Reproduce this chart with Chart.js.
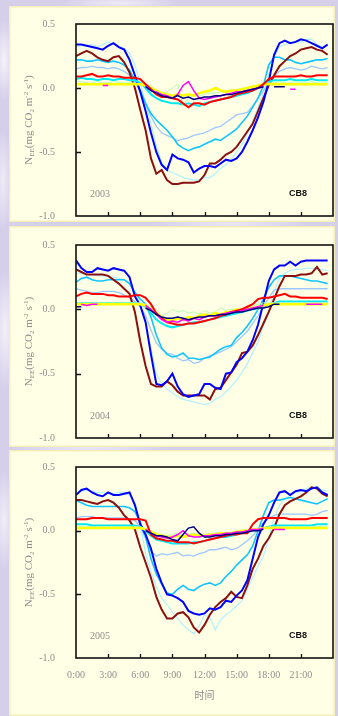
<!DOCTYPE html>
<html>
<head>
<meta charset="utf-8">
<script src="https://cdn.jsdelivr.net/npm/chart.js@4/dist/chart.umd.min.js"></script>
<style>
  html, body { margin: 0; padding: 0; }
  body {
    width: 338px; height: 716px; overflow: hidden; position: relative;
    background-color: #D6CFEA;
    background-image:
      radial-gradient(ellipse 10px 40px at 4px 60px, rgba(255,255,255,.75), rgba(255,255,255,0)),
      radial-gradient(ellipse 9px 50px at 3px 180px, rgba(255,255,255,.6), rgba(255,255,255,0)),
      radial-gradient(ellipse 12px 60px at 5px 330px, rgba(255,255,255,.7), rgba(255,255,255,0)),
      radial-gradient(ellipse 10px 50px at 4px 520px, rgba(255,255,255,.65), rgba(255,255,255,0)),
      radial-gradient(ellipse 60px 6px at 120px 3px, rgba(255,255,255,.6), rgba(255,255,255,0)),
      radial-gradient(ellipse 80px 4px at 230px 224px, rgba(255,255,255,.55), rgba(255,255,255,0)),
      radial-gradient(ellipse 80px 4px at 90px 448px, rgba(255,255,255,.55), rgba(255,255,255,0));
  }
  .panel {
    position: absolute; left: 9px; width: 326px;
    background: #FFFFE6;
    box-shadow: inset 0 0 0 1.5px #F4EFB8;
  }
  .panel canvas { position: absolute; left: 0; top: 0; }
</style>
</head>
<body>
<div class="panel" style="top:6px;height:216px"><canvas id="c2003" width="326" height="216"></canvas></div>
<div class="panel" style="top:226px;height:221px"><canvas id="c2004" width="326" height="221"></canvas></div>
<div class="panel" style="top:450px;height:266px"><canvas id="c2005" width="326" height="266"></canvas></div>
<script>
// Half-hourly time of day (h)
const TIMES = [0,0.5,1,1.5,2,2.5,3,3.5,4,4.5,5,5.5,
  6,6.5,7,7.5,8,8.5,9,9.5,10,10.5,11,11.5,
  12,12.5,13,13.5,14,14.5,15,15.5,16,16.5,17,17.5,
  18,18.5,19,19.5,20,20.5,21,21.5,22,22.5,23,23.5];
const X_TICK_HOURS = [0,3,6,9,12,15,18,21];
const Y_TICKS = [-1.0,-0.5,0.0,0.5];
const SITE = 'CB8';
const X_TITLE = '时间';

// ---- 2003 ----
const BLUE_03 = [0.34,0.34,0.33,0.32,0.31,0.30,0.33,0.35,0.32,0.30,0.22,0.10,
  -0.03,-0.18,-0.35,-0.50,-0.60,-0.64,-0.52,-0.55,-0.56,-0.58,-0.66,-0.63,
  -0.61,-0.61,-0.62,-0.59,-0.56,-0.57,-0.55,-0.50,-0.42,-0.33,-0.23,-0.11,
  0.05,0.26,0.35,0.37,0.35,0.36,0.38,0.37,0.35,0.33,0.31,0.34];
const MAROON_03 = [0.25,0.27,0.29,0.27,0.24,0.22,0.21,0.24,0.25,0.20,0.12,0.00,
  -0.17,-0.33,-0.55,-0.67,-0.64,-0.72,-0.75,-0.75,-0.74,-0.74,-0.74,-0.73,
  -0.68,-0.59,-0.59,-0.56,-0.52,-0.50,-0.46,-0.40,-0.34,-0.28,-0.18,-0.08,
  0.02,0.10,0.17,0.21,0.25,0.27,0.30,0.31,0.32,0.30,0.29,0.26];
const PALECYAN_03 = [0.32,0.33,0.33,0.34,0.32,0.34,0.36,0.34,0.32,0.31,0.27,0.18,
  0.04,-0.12,-0.28,-0.45,-0.58,-0.64,-0.66,-0.68,-0.70,-0.71,-0.72,-0.72,
  -0.70,-0.70,-0.67,-0.63,-0.60,-0.56,-0.50,-0.44,-0.36,-0.26,-0.15,-0.04,
  0.10,0.24,0.32,0.34,0.35,0.36,0.36,0.38,0.38,0.34,0.32,0.33];
const SKY_03 = [0.22,0.22,0.21,0.21,0.22,0.21,0.20,0.21,0.20,0.18,0.14,0.06,
  -0.02,-0.12,-0.20,-0.25,-0.29,-0.33,-0.38,-0.44,-0.47,-0.49,-0.47,-0.46,
  -0.44,-0.42,-0.40,-0.41,-0.38,-0.35,-0.32,-0.27,-0.22,-0.15,-0.08,0.02,
  0.18,0.24,0.24,0.22,0.22,0.20,0.19,0.20,0.21,0.22,0.22,0.23];
const PALEBLUE_03 = [0.15,0.16,0.16,0.17,0.16,0.16,0.15,0.16,0.15,0.13,0.10,0.05,
  -0.02,-0.12,-0.22,-0.30,-0.35,-0.37,-0.39,-0.41,-0.40,-0.39,-0.37,-0.36,
  -0.35,-0.33,-0.31,-0.30,-0.27,-0.24,-0.21,-0.20,-0.19,-0.14,-0.08,-0.02,
  0.04,0.09,0.13,0.15,0.16,0.15,0.14,0.15,0.17,0.16,0.15,0.16];
const RED_03 = [0.09,0.09,0.10,0.11,0.09,0.09,0.10,0.09,0.09,0.08,0.08,0.08,
  0.07,0.03,-0.01,-0.05,-0.07,-0.07,-0.08,-0.09,-0.12,-0.15,-0.12,-0.12,
  -0.13,-0.11,-0.10,-0.09,-0.08,-0.07,-0.05,-0.04,-0.03,-0.02,0.00,0.03,
  0.07,0.09,0.09,0.09,0.09,0.09,0.10,0.09,0.09,0.10,0.10,0.10];
const CYAN_03 = [0.07,0.08,0.07,0.07,0.06,0.07,0.07,0.06,0.07,0.07,0.06,0.06,
  0.04,0.00,-0.05,-0.08,-0.10,-0.11,-0.12,-0.12,-0.13,-0.12,-0.13,-0.14,
  -0.12,-0.11,-0.10,-0.09,-0.08,-0.07,-0.06,-0.05,-0.04,-0.02,0.00,0.03,
  0.05,0.06,0.06,0.06,0.07,0.06,0.06,0.06,0.07,0.06,0.06,0.06];
const YELLOW_03 = [0.03,0.03,0.03,0.03,0.03,0.03,0.03,0.03,0.03,0.03,0.03,0.03,
  0.03,0.02,0.00,-0.02,-0.04,-0.05,-0.06,-0.05,-0.06,-0.05,-0.06,-0.04,
  -0.03,-0.02,0.00,-0.02,-0.03,-0.02,-0.02,-0.01,0.00,0.01,0.02,0.03,
  0.03,0.03,0.03,0.03,0.03,0.03,0.03,0.03,0.03,0.03,0.03,0.03];
const GREEN_03 = [0.05,0.05,0.04,0.04,0.05,0.04,0.04,0.05,0.04,0.04,0.04,0.04,
  0.03,0.03,0.02,-0.02,-0.04,-0.03,0.00,0.03,-0.14,-0.08,-0.05,-0.06,
  -0.05,-0.04,-0.04,-0.03,-0.03,-0.02,-0.02,0.00,0.00,0.01,0.02,0.03,
  0.04,0.04,0.05,0.04,0.04,0.05,0.04,0.04,0.05,0.04,0.04,0.04];
const MAGENTA_03 = [null,null,null,null,null,0.02,0.02,null,null,null,null,null,
  null,0.02,-0.02,-0.03,-0.05,-0.06,-0.08,-0.05,0.02,0.05,-0.02,-0.08,
  -0.09,-0.08,-0.07,-0.06,-0.05,-0.04,-0.03,-0.03,-0.02,-0.01,0.00,0.01,
  null,null,null,null,-0.01,-0.01,null,null,null,null,null,null];
const NAVY_03 = [null,null,null,null,null,null,null,null,null,null,null,null,
  null,0.01,-0.02,-0.04,-0.06,-0.07,-0.08,-0.06,-0.08,-0.07,-0.09,-0.08,
  -0.07,-0.07,-0.06,-0.06,-0.05,-0.05,-0.04,-0.03,-0.02,-0.01,0.00,0.01,
  null,0.01,0.01,0.01,null,null,null,null,null,null,null,null];

// ---- 2004 ----
const BLUE_04 = [0.38,0.32,0.29,0.29,0.32,0.31,0.30,0.32,0.31,0.30,0.25,0.10,
  0.03,-0.10,-0.35,-0.58,-0.59,-0.56,-0.50,-0.60,-0.66,-0.68,-0.67,-0.66,
  -0.58,-0.58,-0.61,-0.62,-0.50,-0.49,-0.41,-0.38,-0.33,-0.24,-0.12,0.05,
  0.22,0.31,0.34,0.34,0.37,0.34,0.37,0.38,0.38,0.38,0.38,0.38];
const MAROON_04 = [0.31,0.29,0.27,0.27,0.27,0.27,0.26,0.23,0.20,0.16,0.12,-0.02,
  -0.25,-0.44,-0.58,-0.60,-0.60,-0.56,-0.59,-0.64,-0.67,-0.67,-0.67,-0.67,
  -0.67,-0.70,-0.62,-0.61,-0.55,-0.49,-0.43,-0.34,-0.33,-0.28,-0.20,-0.11,
  -0.02,0.08,0.18,0.26,0.26,0.26,0.27,0.27,0.28,0.33,0.27,0.28];
const PALECYAN_04 = [0.28,0.28,0.27,0.27,0.26,0.26,0.26,0.25,0.24,0.23,0.20,0.14,
  0.03,-0.12,-0.30,-0.50,-0.58,-0.62,-0.65,-0.68,-0.70,-0.71,-0.72,-0.73,
  -0.74,-0.73,-0.70,-0.68,-0.64,-0.60,-0.55,-0.49,-0.42,-0.34,-0.25,-0.13,
  -0.02,0.14,0.24,0.28,0.30,0.31,0.31,0.32,0.32,0.31,0.31,0.30];
const SKY_04 = [0.21,0.24,0.25,0.23,0.22,0.22,0.23,0.23,0.23,0.23,0.20,0.13,
  0.08,0.04,-0.06,-0.20,-0.30,-0.35,-0.37,-0.36,-0.34,-0.38,-0.38,-0.39,
  -0.38,-0.37,-0.34,-0.31,-0.29,-0.28,-0.22,-0.18,-0.13,-0.07,0.00,0.08,
  0.17,0.23,0.26,0.26,0.26,0.25,0.24,0.23,0.22,0.22,0.21,0.20];
const PALEBLUE_04 = [0.16,0.15,0.14,0.13,0.13,0.14,0.14,0.14,0.13,0.11,0.09,0.06,
  0.02,-0.05,-0.16,-0.26,-0.31,-0.34,-0.35,-0.38,-0.40,-0.39,-0.42,-0.41,
  -0.38,-0.36,-0.35,-0.33,-0.31,-0.29,-0.25,-0.21,-0.17,-0.11,-0.05,0.02,
  0.09,0.15,0.16,0.16,0.16,0.16,0.16,0.16,0.16,0.16,0.16,0.16];
const RED_04 = [0.10,0.12,0.13,0.12,0.12,0.12,0.11,0.11,0.10,0.10,0.10,0.11,
  0.11,0.09,0.04,-0.03,-0.07,-0.10,-0.11,-0.12,-0.12,-0.11,-0.11,-0.10,
  -0.09,-0.08,-0.07,-0.05,-0.04,-0.02,-0.01,0.00,0.02,0.04,0.08,0.09,
  0.09,0.10,0.11,0.12,0.10,0.10,0.09,0.09,0.09,0.09,0.09,0.08];
const CYAN_04 = [0.05,0.05,0.05,0.05,0.05,0.05,0.05,0.05,0.05,0.05,0.05,0.05,
  0.04,0.02,-0.03,-0.08,-0.11,-0.13,-0.14,-0.13,-0.12,-0.11,-0.10,-0.10,
  -0.09,-0.08,-0.07,-0.06,-0.05,-0.04,-0.03,-0.02,-0.01,0.00,0.01,0.02,
  0.04,0.05,0.06,0.06,0.06,0.06,0.06,0.06,0.06,0.06,0.06,0.06];
const YELLOW_04 = [0.04,0.04,0.04,0.04,0.04,0.04,0.04,0.04,0.04,0.04,0.04,0.04,
  0.04,0.03,0.00,-0.03,-0.06,-0.08,-0.09,-0.07,-0.08,-0.06,-0.07,-0.05,
  -0.04,-0.05,-0.03,-0.04,-0.02,-0.02,0.00,-0.01,0.01,0.01,0.02,0.03,
  0.04,0.04,0.04,0.04,0.04,0.04,0.04,0.04,0.04,0.04,0.04,0.04];
const GREEN_04 = [0.05,0.05,0.05,0.05,0.05,0.05,0.05,0.05,0.05,0.05,0.05,0.05,
  0.05,0.04,0.02,-0.01,-0.05,-0.03,0.00,-0.02,-0.01,-0.03,-0.02,-0.04,
  -0.01,-0.03,-0.02,0.01,-0.01,0.00,-0.01,0.01,0.02,0.03,0.04,0.05,
  0.05,0.05,0.05,0.05,0.05,0.05,0.05,0.05,0.05,0.05,0.05,0.05];
const MAGENTA_04 = [null,0.04,0.03,0.04,0.04,null,null,null,null,null,null,null,
  null,0.03,0.00,-0.04,-0.08,-0.10,-0.09,-0.10,-0.08,-0.09,-0.07,-0.08,
  -0.06,-0.05,-0.05,-0.04,-0.03,-0.02,-0.02,-0.01,0.00,0.01,0.02,0.03,
  null,null,null,null,null,null,null,0.04,0.04,0.04,0.04,null];
const NAVY_04 = [0.02,0.02,null,null,null,null,null,null,null,null,null,null,
  null,0.01,-0.01,-0.04,-0.06,-0.07,-0.07,-0.06,-0.07,-0.08,-0.07,-0.06,
  -0.06,-0.05,-0.05,-0.04,-0.04,-0.03,-0.02,-0.02,-0.01,0.00,0.01,0.01,
  0.02,0.04,0.04,null,null,null,null,null,null,null,null,null];

// ---- 2005 ----
const BLUE_05 = [0.28,0.32,0.33,0.30,0.28,0.27,0.30,0.28,0.28,0.29,0.30,0.20,
  0.05,-0.03,-0.14,-0.30,-0.41,-0.50,-0.51,-0.53,-0.56,-0.63,-0.65,-0.66,
  -0.65,-0.61,-0.62,-0.60,-0.55,-0.56,-0.51,-0.47,-0.39,-0.22,-0.05,0.05,
  0.12,0.22,0.30,0.31,0.28,0.31,0.32,0.31,0.33,0.34,0.30,0.28];
const MAROON_05 = [0.24,0.24,0.23,0.22,0.21,0.23,0.24,0.22,0.18,0.12,0.08,0.01,
  -0.13,-0.25,-0.37,-0.52,-0.62,-0.69,-0.69,-0.65,-0.64,-0.68,-0.76,-0.80,
  -0.74,-0.66,-0.60,-0.56,-0.53,-0.48,-0.52,-0.53,-0.43,-0.30,-0.22,-0.12,
  -0.06,0.02,0.13,0.20,0.23,0.25,0.27,0.30,0.34,0.33,0.29,0.27];
const PALECYAN_05 = [0.30,0.31,0.32,0.31,0.30,0.30,0.29,0.29,0.30,0.30,0.28,0.22,
  0.05,-0.18,-0.32,-0.44,-0.53,-0.58,-0.64,-0.69,-0.74,-0.78,-0.81,-0.75,
  -0.66,-0.68,-0.78,-0.70,-0.66,-0.63,-0.59,-0.55,-0.46,-0.37,-0.28,-0.20,
  -0.06,0.10,0.20,0.25,0.28,0.30,0.31,0.33,0.34,0.34,0.32,0.31];
const SKY_05 = [0.24,0.22,0.20,0.19,0.19,0.19,0.19,0.19,0.19,0.19,0.18,0.15,
  0.07,-0.05,-0.22,-0.34,-0.42,-0.49,-0.50,-0.46,-0.43,-0.46,-0.47,-0.44,
  -0.42,-0.41,-0.43,-0.41,-0.36,-0.32,-0.27,-0.23,-0.19,-0.12,0.00,0.12,
  0.22,0.24,0.24,0.25,0.26,0.25,0.24,0.23,0.22,0.21,0.23,0.25];
const PALEBLUE_05 = [0.10,0.11,0.11,0.11,0.10,0.10,0.10,0.10,0.10,0.10,0.09,0.08,
  0.03,-0.06,-0.16,-0.20,-0.18,-0.19,-0.18,-0.17,-0.20,-0.19,-0.20,-0.18,
  -0.17,-0.15,-0.15,-0.14,-0.13,-0.15,-0.14,-0.11,-0.08,-0.04,0.01,0.06,
  0.10,0.12,0.13,0.13,0.13,0.13,0.13,0.13,0.12,0.13,0.15,0.16];
const RED_05 = [0.09,0.09,0.09,0.10,0.10,0.10,0.09,0.09,0.09,0.09,0.09,0.09,
  0.09,0.08,-0.03,-0.06,-0.07,-0.08,-0.08,-0.09,-0.09,-0.09,-0.10,-0.09,
  -0.08,-0.07,-0.06,-0.05,-0.04,-0.03,-0.03,-0.02,-0.02,0.05,0.09,0.10,
  0.10,0.10,0.10,0.10,0.09,0.09,0.09,0.09,0.10,0.10,0.10,0.10];
const CYAN_05 = [0.05,0.05,0.05,0.04,0.04,0.04,0.04,0.04,0.04,0.04,0.04,0.04,
  0.03,0.00,-0.04,-0.07,-0.08,-0.09,-0.10,-0.10,-0.10,-0.10,-0.09,-0.09,
  -0.08,-0.07,-0.06,-0.05,-0.05,-0.04,-0.03,-0.02,-0.01,0.00,0.01,0.02,
  0.03,0.04,0.04,0.04,0.04,0.04,0.04,0.04,0.04,0.05,0.05,0.05];
const YELLOW_05 = [0.02,0.02,0.02,0.02,0.02,0.02,0.02,0.02,0.02,0.02,0.02,0.02,
  0.02,0.01,-0.01,-0.03,-0.04,-0.05,-0.05,-0.04,-0.05,-0.04,-0.03,-0.04,
  -0.04,-0.03,-0.03,-0.02,-0.02,-0.02,-0.01,0.00,0.00,0.01,0.01,0.02,
  0.02,0.02,0.02,0.02,0.02,0.02,0.02,0.02,0.02,0.02,0.02,0.02];
const GREEN_05 = [0.03,0.03,0.03,0.03,0.03,0.03,0.03,0.03,0.03,0.03,0.03,0.03,
  0.03,0.02,0.00,-0.02,-0.03,-0.04,-0.03,-0.02,-0.04,-0.03,-0.02,-0.03,
  -0.03,-0.02,-0.02,-0.01,-0.02,-0.01,0.00,0.00,0.01,0.01,0.02,0.02,
  0.03,0.03,0.03,0.03,0.03,0.03,0.03,0.03,0.03,0.03,0.03,0.03];
const MAGENTA_05 = [null,null,null,null,null,null,null,null,null,null,null,null,
  null,0.01,-0.02,-0.04,-0.05,-0.06,-0.05,-0.03,0.00,-0.04,-0.05,-0.05,
  -0.04,-0.04,-0.03,-0.03,-0.02,-0.02,-0.01,-0.01,0.00,0.01,0.01,0.02,
  null,0.01,0.01,0.01,null,null,null,null,null,null,null,null];
const NAVY_05 = [null,null,null,null,null,null,null,null,null,null,null,null,
  null,0.00,-0.02,-0.04,-0.04,-0.05,-0.07,-0.08,-0.03,0.02,0.03,-0.02,
  -0.05,-0.05,-0.04,-0.04,-0.03,-0.03,-0.02,-0.02,-0.01,0.00,0.00,0.01,
  null,null,null,null,null,null,null,null,null,null,null,null];

// Line look per series, listed top-most first
const LINE_STYLE = [
  { key: 'navy',     color: '#000080', width: 1.5 },
  { key: 'magenta',  color: '#FF00FF', width: 1.5 },
  { key: 'red',      color: '#FF0000', width: 2 },
  { key: 'yellow',   color: '#FFFF00', width: 2.5 },
  { key: 'green',    color: '#B8FFB0', width: 1 },
  { key: 'cyan',     color: '#00E8F0', width: 2 },
  { key: 'blue',     color: '#0000FF', width: 2 },
  { key: 'maroon',   color: '#8B1010', width: 2 },
  { key: 'sky',      color: '#10C4FF', width: 1.6 },
  { key: 'paleblue', color: '#9CC8FF', width: 1.3 },
  { key: 'palecyan', color: '#B0F2FF', width: 1.2 }
];

const PANELS = [
  { id: 'c2003', year: '2003', top: 18, bottom: 6, xLabels: false,
    series: { navy: NAVY_03, magenta: MAGENTA_03, red: RED_03, yellow: YELLOW_03, green: GREEN_03,
              cyan: CYAN_03, blue: BLUE_03, maroon: MAROON_03, sky: SKY_03, paleblue: PALEBLUE_03, palecyan: PALECYAN_03 } },
  { id: 'c2004', year: '2004', top: 19, bottom: 9, xLabels: false,
    series: { navy: NAVY_04, magenta: MAGENTA_04, red: RED_04, yellow: YELLOW_04, green: GREEN_04,
              cyan: CYAN_04, blue: BLUE_04, maroon: MAROON_04, sky: SKY_04, paleblue: PALEBLUE_04, palecyan: PALECYAN_04 } },
  { id: 'c2005', year: '2005', top: 17, bottom: 0, xLabels: true,
    series: { navy: NAVY_05, magenta: MAGENTA_05, red: RED_05, yellow: YELLOW_05, green: GREEN_05,
              cyan: CYAN_05, blue: BLUE_05, maroon: MAROON_05, sky: SKY_05, paleblue: PALEBLUE_05, palecyan: PALECYAN_05 } }
];

const SERIF = "'Liberation Serif', 'DejaVu Serif', serif";
const GREY = '#8e8e8e';

// Rotated axis title N_EE (mg CO2 m-2 s-1) with sub/superscripts
const Y_TITLE_PARTS = [
  { t: 'N', size: 11, dy: 0 }, { t: 'EE', size: 7, dy: 2 },
  { t: '(mg CO', size: 11, dy: 0 }, { t: '2', size: 7, dy: 2 },
  { t: ' m', size: 11, dy: 0 }, { t: '-2', size: 7, dy: -4.5 },
  { t: ' s', size: 11, dy: 0 }, { t: '-1', size: 7, dy: -4.5 },
  { t: ')', size: 11, dy: 0 }
];

const framePlugin = {
  id: 'frame',
  afterDatasetsDraw(chart, args, opts) {
    const { ctx, chartArea: a, scales: { x, y } } = chart;
    ctx.save();
    // plot box
    ctx.strokeStyle = '#111';
    ctx.lineWidth = 1.6;
    ctx.strokeRect(a.left, a.top, a.right - a.left, a.bottom - a.top);
    // inward tick marks
    ctx.lineWidth = 1.3;
    ctx.beginPath();
    X_TICK_HOURS.forEach(h => {
      if (h === 0) return;
      const px = Math.round(x.getPixelForValue(h)) + 0.5;
      ctx.moveTo(px, a.bottom);
      ctx.lineTo(px, a.bottom - 4);
    });
    Y_TICKS.forEach(v => {
      if (v === Y_TICKS[0] || v === Y_TICKS[Y_TICKS.length - 1]) return;
      const py = Math.round(y.getPixelForValue(v)) + 0.5;
      ctx.moveTo(a.left, py);
      ctx.lineTo(a.left + 5, py);
    });
    ctx.stroke();
    // year and site labels
    ctx.textBaseline = 'middle';
    ctx.fillStyle = GREY;
    ctx.font = '10px ' + SERIF;
    ctx.textAlign = 'left';
    ctx.fillText(opts.year, a.left + 14, a.bottom - 22);
    ctx.fillStyle = '#111';
    ctx.font = 'bold 9px "Liberation Sans", Arial, sans-serif';
    ctx.fillText(SITE, a.right - 44, a.bottom - 22);
    // y axis title
    ctx.translate(19, (a.top + a.bottom) / 2);
    ctx.rotate(-Math.PI / 2);
    ctx.fillStyle = GREY;
    ctx.textBaseline = 'alphabetic';
    let total = 0;
    Y_TITLE_PARTS.forEach(p => { ctx.font = p.size + 'px ' + SERIF; total += ctx.measureText(p.t).width; });
    let cx = -total / 2;
    Y_TITLE_PARTS.forEach(p => {
      ctx.font = p.size + 'px ' + SERIF;
      ctx.fillText(p.t, cx, 4 + p.dy);
      cx += ctx.measureText(p.t).width;
    });
    ctx.restore();
  }
};

PANELS.forEach(panel => {
  const datasets = LINE_STYLE.map(s => ({
    label: s.key,
    data: panel.series[s.key].map((v, i) => ({ x: TIMES[i], y: v })),
    borderColor: s.color,
    borderWidth: s.width,
    pointRadius: 0,
    tension: 0,
    spanGaps: false,
    fill: false
  }));
  new Chart(document.getElementById(panel.id), {
    type: 'line',
    data: { datasets },
    options: {
      responsive: false,
      animation: false,
      devicePixelRatio: 1,
      layout: { autoPadding: false, padding: { left: 0, right: 2, top: panel.top, bottom: panel.bottom } },
      plugins: {
        legend: { display: false },
        tooltip: { enabled: false },
        frame: { year: panel.year }
      },
      scales: {
        x: {
          type: 'linear', min: 0, max: 24,
          afterBuildTicks: s => { s.ticks = X_TICK_HOURS.map(v => ({ value: v })); },
          afterFit: s => {
            s.height = panel.xLabels ? 58 : 0;
            s.paddingLeft = 0; s.paddingRight = 0; s.paddingTop = 0; s.paddingBottom = 0;
          },
          grid: { display: false, drawTicks: false },
          border: { display: false },
          ticks: {
            display: panel.xLabels,
            padding: 11, color: GREY, maxRotation: 0, autoSkip: false,
            font: { family: SERIF, size: 10 },
            callback: v => v + ':00'
          },
          title: {
            display: panel.xLabels, text: X_TITLE, color: GREY,
            font: { family: "'Noto Sans CJK SC', sans-serif", size: 10 },
            padding: { top: 0, bottom: 15 }
          }
        },
        y: {
          min: -1, max: 0.5,
          afterBuildTicks: s => { s.ticks = Y_TICKS.map(v => ({ value: v })); },
          afterFit: s => {
            s.width = 67;
            s.paddingLeft = 0; s.paddingRight = 0; s.paddingTop = 0; s.paddingBottom = 0;
          },
          grid: { display: false, drawTicks: false },
          border: { display: false },
          ticks: {
            padding: 21, color: GREY,
            font: { family: SERIF, size: 10 },
            callback: v => Number(v).toFixed(1)
          }
        }
      }
    },
    plugins: [framePlugin]
  });
});
</script>
</body>
</html>
